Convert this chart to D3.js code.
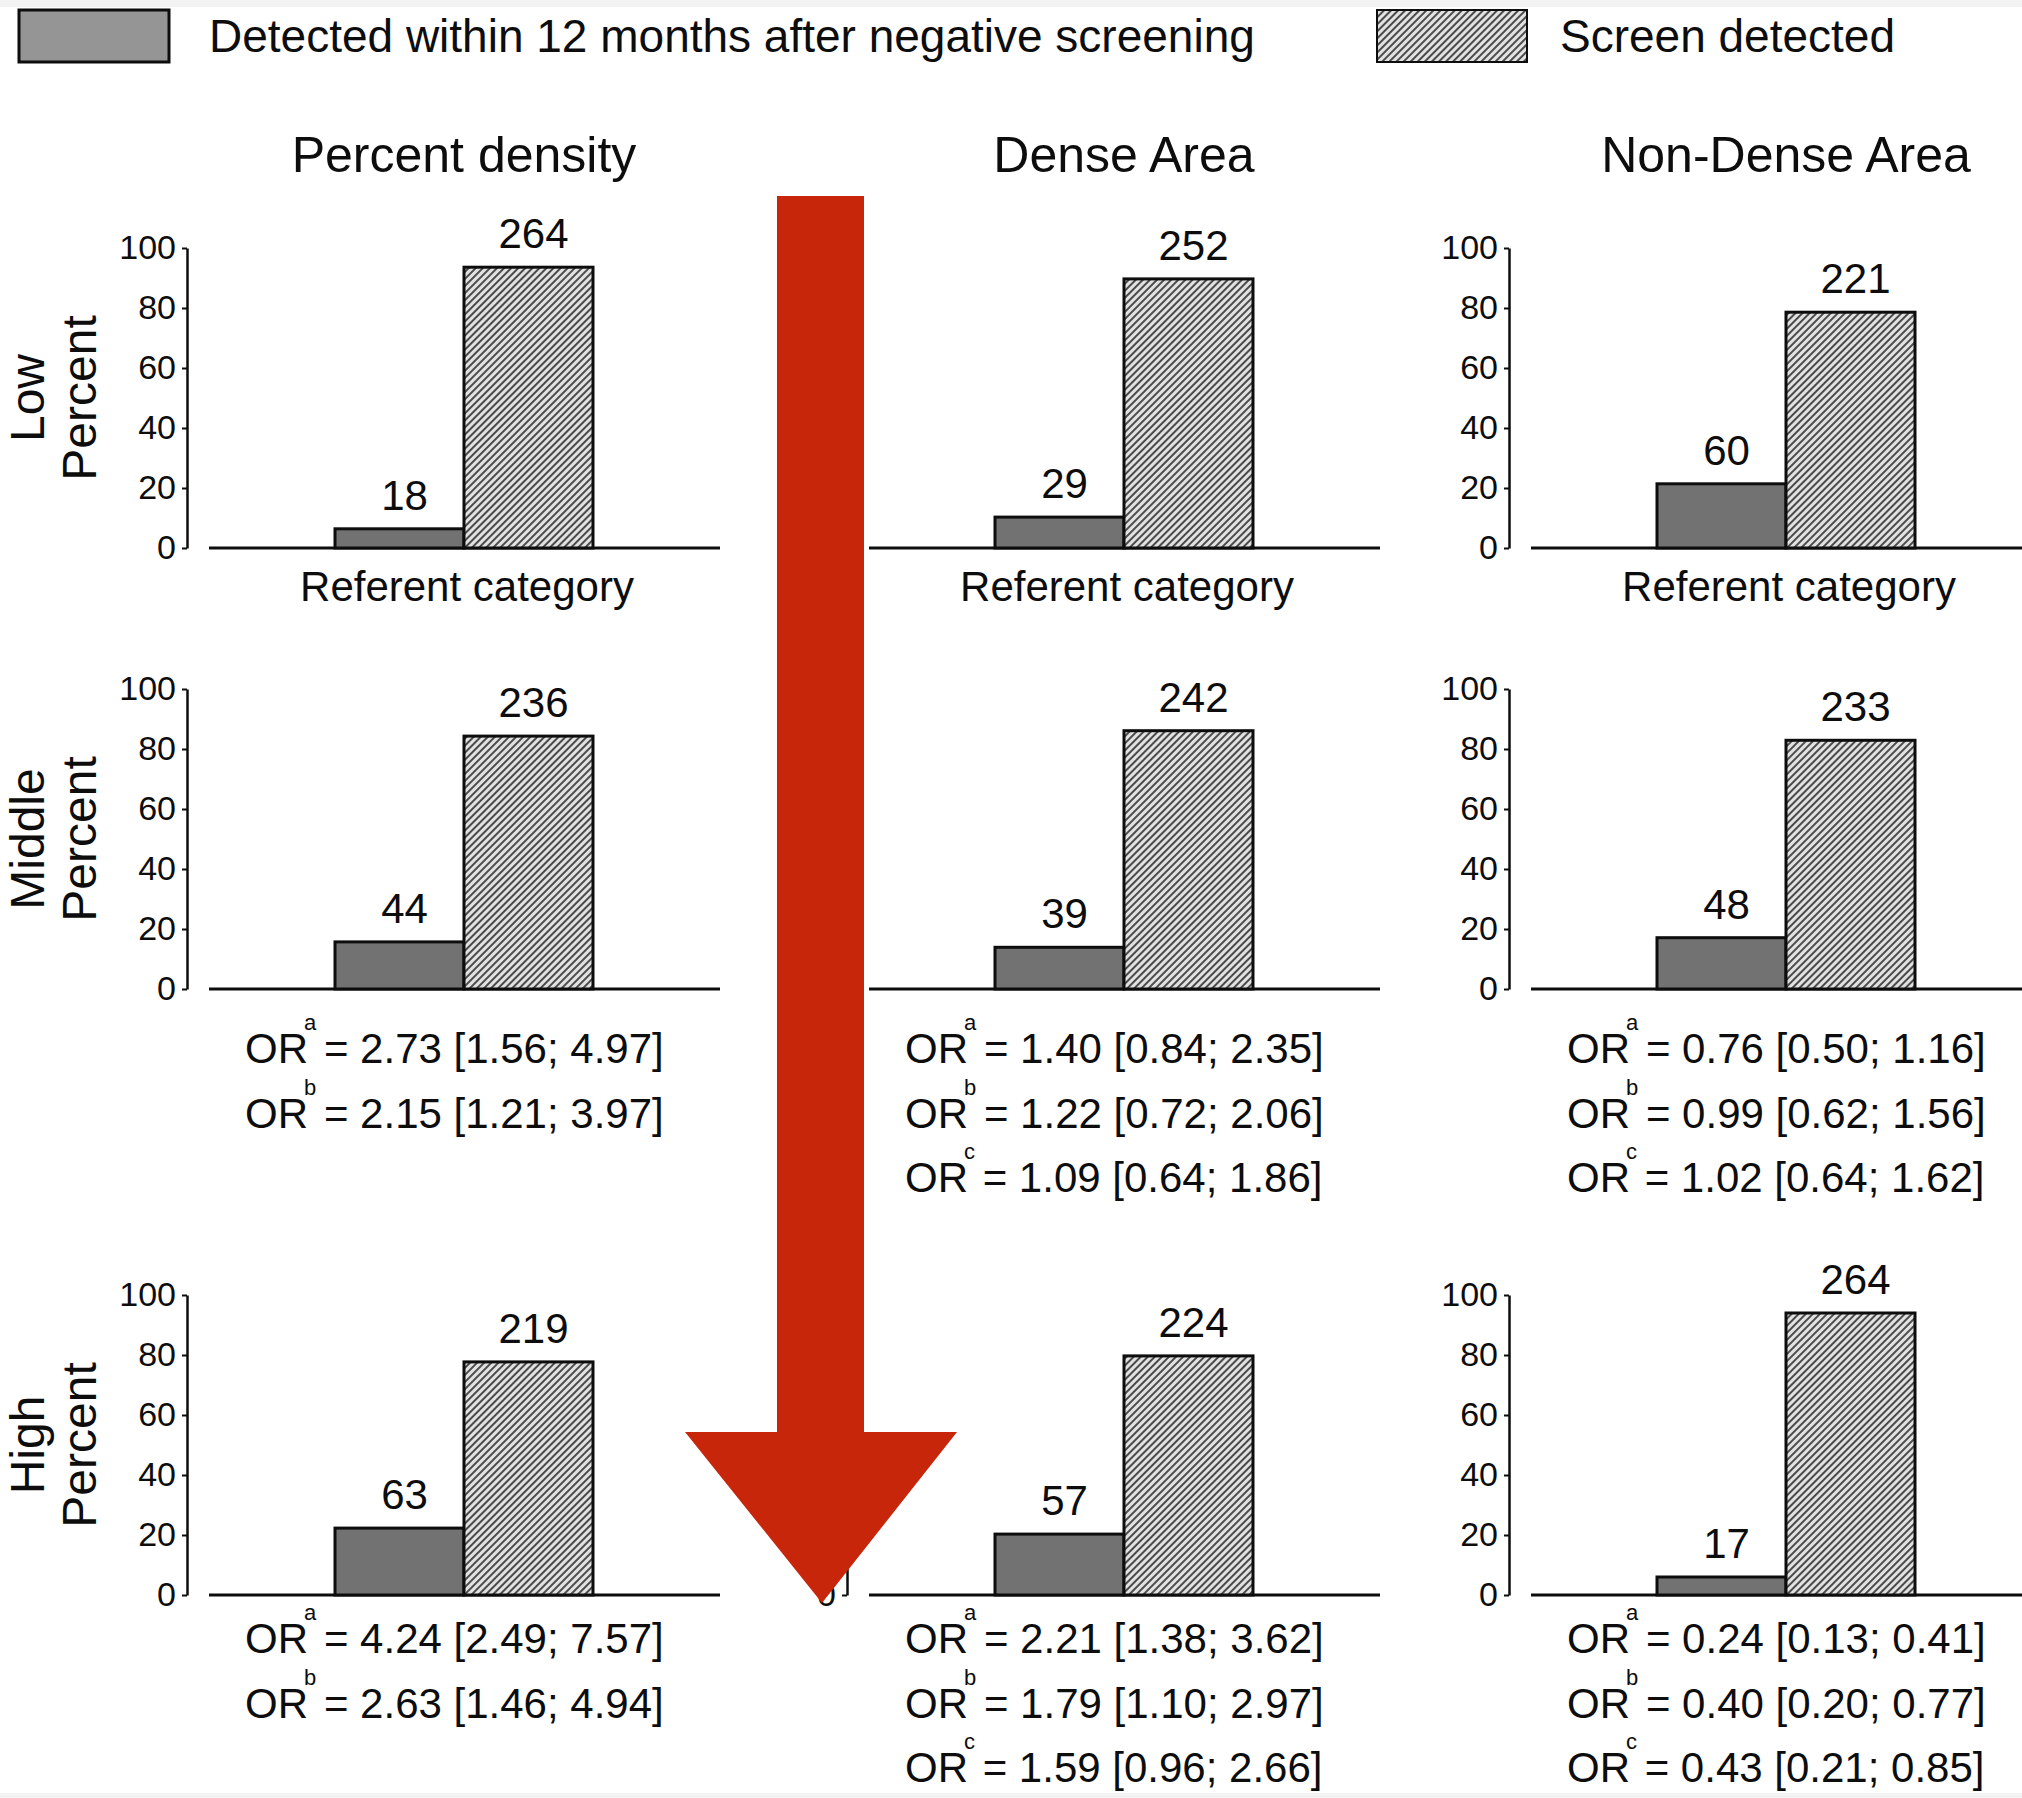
<!DOCTYPE html>
<html>
<head>
<meta charset="utf-8">
<script src="https://cdn.jsdelivr.net/npm/d3@7/dist/d3.min.js"></script>
<style>
  html, body { margin: 0; padding: 0; background: #fff; }
  svg { display: block; font-family: "Liberation Sans", Arial, sans-serif; }
</style>
</head>
<body>
<div id="chart"></div>
<script>
// Data
const seriesNames = ["Detected within 12 months after negative screening", "Screen detected"];
const colTitles = ["Percent density", "Dense Area", "Non-Dense Area"];
const rowLabels = ["Low", "Middle", "High"];
const yTicks = [0, 20, 40, 60, 80, 100];

// percent of cases per panel [row][col]
const intervalPct = [[6.4, 10.3, 21.4], [15.7, 13.9, 17.1], [22.3, 20.3, 6.0]];
const screenPct   = [[93.6, 89.7, 78.6], [84.3, 86.1, 82.9], [77.7, 79.7, 94.0]];
// counts printed over the bars
const intervalN = [[18, 29, 60], [44, 39, 48], [63, 57, 17]];
const screenN   = [[264, 252, 221], [236, 242, 233], [219, 224, 264]];

const referentLabel = "Referent category";
// odds ratios under each panel: [superscript, text]
const orText = [
  null,
  [
    [["a", "2.73 [1.56; 4.97]"], ["b", "2.15 [1.21; 3.97]"]],
    [["a", "1.40 [0.84; 2.35]"], ["b", "1.22 [0.72; 2.06]"], ["c", "1.09 [0.64; 1.86]"]],
    [["a", "0.76 [0.50; 1.16]"], ["b", "0.99 [0.62; 1.56]"], ["c", "1.02 [0.64; 1.62]"]]
  ],
  [
    [["a", "4.24 [2.49; 7.57]"], ["b", "2.63 [1.46; 4.94]"]],
    [["a", "2.21 [1.38; 3.62]"], ["b", "1.79 [1.10; 2.97]"], ["c", "1.59 [0.96; 2.66]"]],
    [["a", "0.24 [0.13; 0.41]"], ["b", "0.40 [0.20; 0.77]"], ["c", "0.43 [0.21; 0.85]"]]
  ]
];

// Layout
const W = 2022, H = 1798;
const COL_AXIS_X = [187, 847, 1509];
const ROW_ZERO_Y = [548, 989, 1595];
const PLOT_H = 300;
const OR_FIRST = [0, 74, 58];   // baseline of first OR line below zero
const OR_STEP = 64.5;
const DARK = "#727272";
const RED = "#c8260a";
const INK = "#0d0d0d";

const svg = d3.select("#chart").append("svg")
  .attr("width", W).attr("height", H)
  .attr("viewBox", `0 0 ${W} ${H}`);

svg.append("rect").attr("width", W).attr("height", H).attr("fill", "#fff");
svg.append("rect").attr("width", W).attr("height", 7).attr("fill", "#f3f3f3");
svg.append("rect").attr("y", H - 5).attr("width", W).attr("height", 5).attr("fill", "#f3f3f3");

// hatch pattern "////"
const defs = svg.append("defs");
const pat = defs.append("pattern")
  .attr("id", "hatch")
  .attr("patternUnits", "userSpaceOnUse")
  .attr("width", 5).attr("height", 5)
  .attr("patternTransform", "rotate(45)");
pat.append("rect").attr("width", 5).attr("height", 5).attr("fill", "#e2e2e2");
pat.append("line")
  .attr("x1", 1).attr("y1", 0).attr("x2", 1).attr("y2", 5)
  .attr("stroke", "#3a3a3a").attr("stroke-width", 1.8);

// Legend
const legend = svg.append("g");
legend.append("rect").attr("x", 19).attr("y", 10).attr("width", 150).attr("height", 52)
  .attr("fill", "#959595").attr("stroke", INK).attr("stroke-width", 3);
legend.append("text").attr("x", 209).attr("y", 52).attr("font-size", 46).attr("fill", INK)
  .text(seriesNames[0]);
legend.append("rect").attr("x", 1377).attr("y", 10).attr("width", 150).attr("height", 52)
  .attr("fill", "url(#hatch)").attr("stroke", INK).attr("stroke-width", 2);
legend.append("text").attr("x", 1560).attr("y", 52).attr("font-size", 46).attr("fill", INK)
  .text(seriesNames[1]);

// Column titles
colTitles.forEach((t, c) => {
  svg.append("text")
    .attr("x", COL_AXIS_X[c] + 277).attr("y", 172)
    .attr("text-anchor", "middle").attr("font-size", 50).attr("fill", INK)
    .text(t);
});

// Row labels (two lines, rotated)
rowLabels.forEach((lab, r) => {
  const cy = ROW_ZERO_Y[r] - PLOT_H / 2;
  [[lab, 44], ["Percent", 96]].forEach(([txt, bx]) => {
    svg.append("text")
      .attr("transform", `translate(${bx},${cy}) rotate(-90)`)
      .attr("text-anchor", "middle").attr("font-size", 48).attr("fill", INK)
      .text(txt);
  });
});

// Panels
rowLabels.forEach((_, r) => {
  colTitles.forEach((_, c) => {
    const ax = COL_AXIS_X[c];
    const zero = ROW_ZERO_Y[r];
    const g = svg.append("g");

    const y = d3.scaleLinear().domain([0, 100]).range([zero, zero - PLOT_H]);
    const x = d3.scaleBand().domain(["interval", "screen"])
      .range([ax + 148, ax + 406]).padding(0);

    // y axis
    const yAxis = g.append("g")
      .attr("transform", `translate(${ax},0)`)
      .call(d3.axisLeft(y).tickValues(yTicks).tickSize(5).tickSizeOuter(0).tickPadding(6));
    yAxis.select(".domain").attr("stroke", INK).attr("stroke-width", 2.5);
    yAxis.selectAll(".tick line").attr("stroke", INK).attr("stroke-width", 2);
    yAxis.selectAll(".tick text").attr("font-size", 34).attr("fill", INK)
      .attr("font-family", "Liberation Sans, Arial, sans-serif");

    // baseline
    g.append("line")
      .attr("x1", ax + 22).attr("x2", ax + 533)
      .attr("y1", zero).attr("y2", zero)
      .attr("stroke", INK).attr("stroke-width", 3);

    const bars = [
      { key: "interval", v: intervalPct[r][c], n: intervalN[r][c], fill: DARK },
      { key: "screen", v: screenPct[r][c], n: screenN[r][c], fill: "url(#hatch)" }
    ];

    g.selectAll("rect.bar").data(bars).enter().append("rect")
      .attr("class", "bar")
      .attr("x", d => x(d.key))
      .attr("width", x.bandwidth())
      .attr("y", d => y(d.v))
      .attr("height", d => y(0) - y(d.v))
      .attr("fill", d => d.fill)
      .attr("stroke", INK).attr("stroke-width", 3);

    g.selectAll("text.count").data(bars).enter().append("text")
      .attr("class", "count")
      .attr("x", d => x(d.key) + x.bandwidth() / 2 + 5)
      .attr("y", d => y(d.v) - 19)
      .attr("text-anchor", "middle").attr("font-size", 42).attr("fill", INK)
      .text(d => d.n);

    // text under the panel
    if (r === 0) {
      g.append("text")
        .attr("x", ax + 280).attr("y", zero + 53)
        .attr("text-anchor", "middle").attr("font-size", 42).attr("fill", INK)
        .text(referentLabel);
    } else {
      orText[r][c].forEach(([sup, val], i) => {
        const t = g.append("text")
          .attr("x", ax + 58).attr("y", zero + OR_FIRST[r] + i * OR_STEP)
          .attr("font-size", 42).attr("fill", INK);
        t.append("tspan").text("OR");
        t.append("tspan").attr("dx", -4).attr("dy", -33).attr("font-size", 22).text(sup);
        t.append("tspan").attr("dx", -4).attr("dy", 33).text(" = " + val);
      });
    }
  });
});

// Red arrow annotation over the middle of the figure
svg.append("path")
  .attr("d", "M777,196 L864,196 L864,1432 L957,1432 L822,1603 L685,1432 L777,1432 Z")
  .attr("fill", RED);
</script>
</body>
</html>
